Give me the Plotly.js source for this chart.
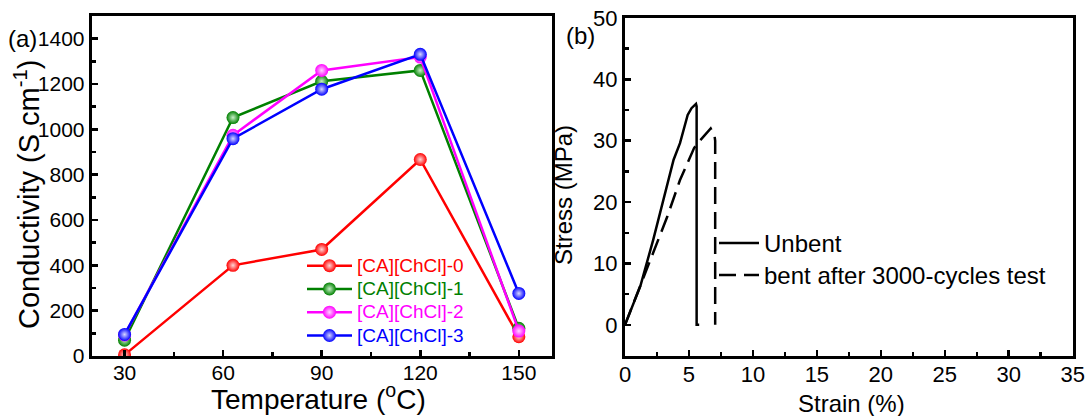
<!DOCTYPE html>
<html>
<head>
<meta charset="utf-8">
<script src="https://cdn.plot.ly/plotly-3.0.1.min.js"></script>
<style>html,body{margin:0;padding:0;background:#fff;}#chart{width:1089px;height:416px;}</style>
</head>
<body>
<div id="chart"></div>
<script>
// Panel (a): conductivity vs temperature
const temperature = [30, 63, 90, 120, 150];
const ca0 = [5, 400, 470, 867, 85];
const ca1 = [70, 1052, 1212, 1260, 122];
const ca2 = [93, 974, 1260, 1319, 110];
const ca3 = [95, 959, 1177, 1331, 276];
const seriesNames = ['[CA][ChCl]-0', '[CA][ChCl]-1', '[CA][ChCl]-2', '[CA][ChCl]-3'];
const seriesColors = ['#ff0000', '#008000', '#ff00ff', '#0000ff'];
const seriesGlow = ['#ffd6d6', '#c8f0c8', '#ffd6ff', '#d6d6ff'];

// Panel (b): stress-strain
const unbentStrain = [0, 1.2, 2.2, 3.0, 3.8, 4.3, 4.9, 5.2, 5.55, 5.6, 5.6, 5.8];
const unbentStress = [0, 6.3, 13.8, 20.3, 26.9, 29.6, 34.2, 35.3, 36.0, 35.6, 0, 0];
const bentStrain = [0, 1.2, 1.7, 2.2, 3.3, 4.3, 5.0, 5.4, 5.85, 6.5, 6.7, 7.0, 7.05, 7.05];
const bentStress = [0, 6.3, 9.0, 11.6, 17.6, 23.6, 26.8, 28.8, 30.0, 31.6, 32.0, 30.8, 30.0, 0];

const W = 1089, H = 416;
const px = v => v / W;
const py = v => 1 - v / H;
const FONT = 'Arial, "Liberation Sans", sans-serif';

const seriesY = [ca0, ca1, ca2, ca3];
const traces = seriesY.map((ys, i) => ({
  x: temperature, y: ys, xaxis: 'x', yaxis: 'y',
  type: 'scatter', mode: 'lines+markers',
  name: '<span style="color:' + seriesColors[i] + ';font-size:19px">' + seriesNames[i] + '</span>',
  line: {color: seriesColors[i], width: 2.5},
  marker: {size: 13, color: seriesColors[i], gradient: {type: 'radial', color: seriesGlow[i]}, line: {width: 0}},
  legend: 'legend'
}));
traces.push({
  x: unbentStrain, y: unbentStress, xaxis: 'x2', yaxis: 'y2',
  type: 'scatter', mode: 'lines', name: '<span style="font-size:24px">Unbent</span>',
  line: {color: '#000', width: 2.5}, legend: 'legend2'
});
traces.push({
  x: bentStrain, y: bentStress, xaxis: 'x2', yaxis: 'y2',
  type: 'scatter', mode: 'lines', name: '<span style="font-size:24px">bent after 3000-cycles test</span>',
  line: {color: '#000', width: 2.5, dash: '17px,8px'}, legend: 'legend2'
});

const axCommon = {
  showline: true, mirror: true, linecolor: '#000', linewidth: 3,
  ticks: 'inside', ticklen: 6, tickwidth: 2.5, tickcolor: '#000',
  showgrid: false, zeroline: false, fixedrange: true,
  tickfont: {family: FONT, size: 21, color: '#000'}
};
const minorCommon = {ticks: 'inside', ticklen: 4, tickwidth: 2.5, tickcolor: '#000'};

const layout = {
  width: W, height: H,
  margin: {l: 0, r: 0, t: 0, b: 0},
  paper_bgcolor: '#fff', plot_bgcolor: '#fff',
  font: {family: FONT, color: '#000'},
  showlegend: true,
  xaxis: Object.assign({}, axCommon, {
    domain: [px(91.7), px(551.7)], range: [20, 160], dtick: 30, tick0: 0,
    minor: Object.assign({dtick: 15}, minorCommon),
    ticklabelstandoff: -4,
    anchor: 'y'
  }),
  yaxis: Object.assign({}, axCommon, {
    domain: [py(356), py(16)], range: [0, 1500], dtick: 200,
    minor: Object.assign({dtick: 100}, minorCommon),
    anchor: 'x'
  }),
  xaxis2: Object.assign({}, axCommon, {
    domain: [px(625), px(1072.7)], range: [0, 35], dtick: 5,
    minor: Object.assign({dtick: 2.5}, minorCommon),
    tickfont: {family: FONT, size: 22, color: '#000'},
    ticklabelstandoff: -3,
    anchor: 'y2'
  }),
  yaxis2: Object.assign({}, axCommon, {
    domain: [py(355.5), py(18)], range: [-5, 50], dtick: 10,
    minor: Object.assign({dtick: 5}, minorCommon),
    tickfont: {family: FONT, size: 22, color: '#000'},
    anchor: 'x2'
  }),
  legend: {
    x: px(302), y: py(249), xanchor: 'left', yanchor: 'top',
    bgcolor: 'rgba(0,0,0,0)', borderwidth: 0,
    font: {family: FONT, size: 15.6}, itemwidth: 45, tracegroupgap: 0
  },
  legend2: {
    x: px(714), y: py(222), xanchor: 'left', yanchor: 'top',
    bgcolor: 'rgba(0,0,0,0)', borderwidth: 0,
    font: {family: FONT, size: 22.3, color: '#000'}, itemwidth: 40
  },
  annotations: [
    {text: 'Temperature (<sup>o</sup>C)', x: px(318), y: py(397), xref: 'paper', yref: 'paper',
     showarrow: false, font: {family: FONT, size: 28}, xanchor: 'center', yanchor: 'middle'},
    {text: 'Conductivity (S cm<sup>-1</sup>)', x: px(27), y: py(195), xref: 'paper', yref: 'paper',
     showarrow: false, textangle: -90, font: {family: FONT, size: 29}, xanchor: 'center', yanchor: 'middle'},
    {text: 'Strain (%)', x: px(851), y: py(403), xref: 'paper', yref: 'paper',
     showarrow: false, font: {family: FONT, size: 24}, xanchor: 'center', yanchor: 'middle'},
    {text: 'Stress (MPa)', x: px(563), y: py(195), xref: 'paper', yref: 'paper',
     showarrow: false, textangle: -90, font: {family: FONT, size: 24}, xanchor: 'center', yanchor: 'middle'},
    {text: '(a)', x: px(22), y: py(38), xref: 'paper', yref: 'paper',
     showarrow: false, font: {family: FONT, size: 24}, xanchor: 'center', yanchor: 'middle'},
    {text: '(b)', x: px(580), y: py(35), xref: 'paper', yref: 'paper',
     showarrow: false, font: {family: FONT, size: 24}, xanchor: 'center', yanchor: 'middle'}
  ]
};

Plotly.newPlot('chart', traces, layout, {staticPlot: true, displayModeBar: false});
</script>
</body>
</html>
